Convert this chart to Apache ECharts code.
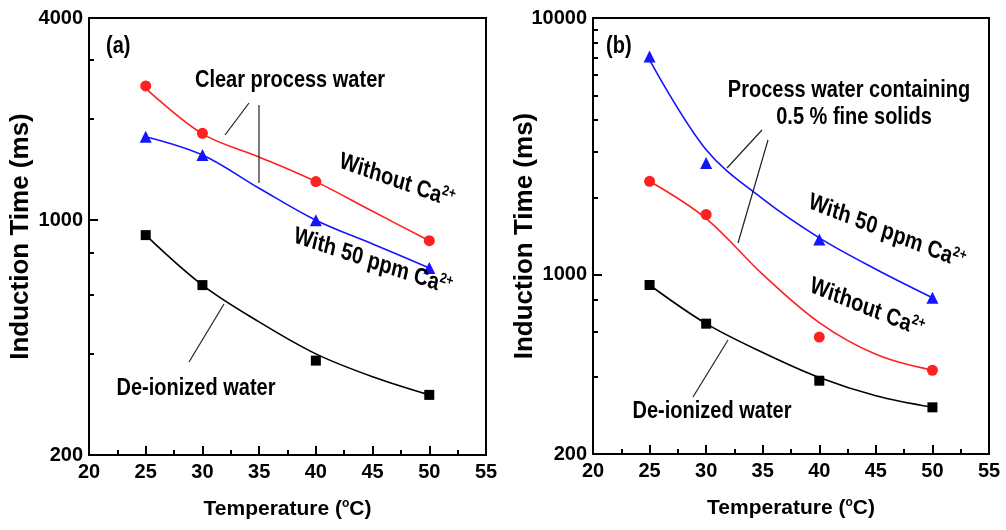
<!DOCTYPE html>
<html>
<head>
<meta charset="utf-8">
<script src="https://cdn.jsdelivr.net/npm/echarts@6/dist/echarts.min.js"></script>
<style>
html,body{margin:0;padding:0;background:#fff;}
#chart{width:1006px;height:530px;}
</style>
</head>
<body>
<div id="chart"></div>
<script>
// ---------- data ----------
const xTicks = [20, 25, 30, 35, 40, 45, 50, 55];
const temps = [25, 30, 40, 50];
const fitTemps = [25, 30, 35, 40, 45, 50];

// Panel (a): clear process water
const aWithout = [2510, 1815, 1303, 869];
const aWith50 = [1773, 1564, 1000, 721];
const aDI = [903, 641, 382, 302];
const aWithoutFit = [2470, 1807, 1543, 1303, 1063, 869];
const aWith50Fit = [1773, 1564, 1245, 1000, 850, 721];
const aDIFit = [903, 641, 498, 400, 342, 302];

// Panel (b): process water containing 0.5 % fine solids
const bWith50 = [7072, 2724, 1370, 813];
const bWithout = [2310, 1715, 571, 424];
const bDI = [911, 644, 386, 304];
const bWith50Fit = [6864, 3066, 1972, 1391, 1050, 813];
const bWithoutFit = [2310, 1654, 1002, 650, 489, 424];
const bDIFit = [911, 644, 497, 397, 337, 304];

const aYLabels = [200, 1000, 4000];
const aYMinor = [400, 600, 800, 2000, 3000];
const bYLabels = [200, 1000, 10000];
const bYMinor = [400, 600, 800, 2000, 3000, 4000, 5000, 6000, 7000, 8000, 9000];

// ---------- styling ----------
const FONT = "'Liberation Sans', Arial, Helvetica, sans-serif";
const RED = '#ff2020', BLUE = '#1414ff', BLACK = '#000';
const STRETCH = 1.2;

const pair = (xs, ys) => xs.map((x, i) => [x, ys[i]]);
const plain = v => String(Math.round(v));

function xAxisCfg(gi) {
  return {
    type: 'value', gridIndex: gi, min: 20, max: 55, interval: 5,
    axisLine: { show: true, lineStyle: { color: BLACK, width: 2 } },
    axisTick: { show: true, inside: true, length: 9, lineStyle: { color: BLACK, width: 2 } },
    minorTick: { show: true, splitNumber: 2, length: 5, lineStyle: { color: BLACK, width: 2 } },
    splitLine: { show: false },
    axisLabel: { margin: 7, color: BLACK, fontFamily: FONT, fontWeight: 'bold', fontSize: 20, formatter: plain },
    name: 'Temperature ({s|o}C)', nameLocation: 'middle', nameGap: 43, nameMoveOverlap: false,
    nameTextStyle: { color: BLACK, fontFamily: FONT, fontWeight: 'bold', fontSize: 21,
      rich: { s: { fontSize: 12, fontFamily: FONT, fontWeight: 'bold', color: BLACK, verticalAlign: 'top', padding: [0, 0, 11, 0] } } }
  };
}
function yAxisMain(gi, min, max, labels, gap) {
  return {
    type: 'log', logBase: 10, gridIndex: gi, min: min, max: max, position: 'left',
    axisLine: { show: true, lineStyle: { color: BLACK, width: 2 } },
    axisTick: { show: true, inside: true, length: 9, customValues: labels, lineStyle: { color: BLACK, width: 2 } },
    minorTick: { show: false },
    splitLine: { show: false },
    axisLabel: { customValues: labels, margin: 6, color: BLACK, fontFamily: FONT, fontWeight: 'bold', fontSize: 20, formatter: plain },
    name: 'Induction Time (ms)', nameLocation: 'middle', nameGap: gap, nameRotate: 90, nameMoveOverlap: false,
    nameTextStyle: { color: BLACK, fontFamily: FONT, fontWeight: 'bold', fontSize: 26 }
  };
}
function yAxisMinor(gi, min, max, minors) {
  return {
    type: 'log', logBase: 10, gridIndex: gi, min: min, max: max, position: 'left',
    axisLine: { show: false },
    axisTick: { show: true, inside: true, length: 5, customValues: minors, lineStyle: { color: BLACK, width: 2 } },
    axisLabel: { show: false, customValues: minors },
    splitLine: { show: false }
  };
}
function scatter(xi, yi, data, symbol, size, color) {
  return { type: 'scatter', xAxisIndex: xi, yAxisIndex: yi, data: data, symbol: symbol,
    symbolSize: size, itemStyle: { color: color, opacity: 1 }, z: 5, silent: true };
}
function fit(xi, yi, data, color) {
  return { type: 'line', xAxisIndex: xi, yAxisIndex: yi, data: data, smooth: 0.35,
    showSymbol: false, symbol: 'none', lineStyle: { color: color, width: 1.6 }, z: 3, silent: true };
}

// annotation text: rotated, then vertically stretched (as in the reference image)
function txt(x, y, text, opts) {
  opts = opts || {};
  const size = opts.size || 20;
  const ang = Math.atan(Math.tan((opts.rot || 0) * Math.PI / 180) / STRETCH);
  return {
    type: 'group', x: x, y: y, scaleY: STRETCH, z: 20, silent: true,
    children: [{
      type: 'text', x: 0, y: 0, rotation: ang, z: 20, silent: true,
      style: {
        text: text, fill: BLACK, fontFamily: FONT, fontWeight: 'bold', fontSize: size,
        align: opts.align || 'center', verticalAlign: 'middle',
        rich: { s: { fontSize: 12, fontFamily: FONT, fontWeight: 'bold', fill: BLACK, verticalAlign: 'top', padding: [0, 0, 11, 0] },
                n: { fontSize: size, fontFamily: FONT, fontWeight: 'bold', fill: BLACK } }
      }
    }]
  };
}
function seg(x1, y1, x2, y2) {
  return { type: 'line', z: 20, silent: true, shape: { x1: x1, y1: y1, x2: x2, y2: y2 },
    style: { stroke: '#222', lineWidth: 1.2 } };
}

const chart = echarts.init(document.getElementById('chart'), null, { renderer: 'canvas' });
chart.setOption({
  backgroundColor: '#fff',
  animation: false,
  grid: [
    { left: 89, top: 18, width: 397, height: 437, show: true, borderColor: BLACK, borderWidth: 2, backgroundColor: 'transparent' },
    { left: 593, top: 18, width: 396, height: 436, show: true, borderColor: BLACK, borderWidth: 2, backgroundColor: 'transparent' }
  ],
  xAxis: [xAxisCfg(0), xAxisCfg(1)],
  yAxis: [
    yAxisMain(0, 200, 4000, aYLabels, 55),
    yAxisMinor(0, 200, 4000, aYMinor),
    yAxisMain(1, 200, 10000, bYLabels, 55),
    yAxisMinor(1, 200, 10000, bYMinor)
  ],
  series: [
    fit(0, 0, pair(fitTemps, aWithoutFit), RED),
    fit(0, 0, pair(fitTemps, aWith50Fit), BLUE),
    fit(0, 0, pair(fitTemps, aDIFit), BLACK),
    scatter(0, 0, pair(temps, aWithout), 'circle', 11, RED),
    scatter(0, 0, pair(temps, aWith50), 'triangle', 12, BLUE),
    scatter(0, 0, pair(temps, aDI), 'rect', 10, BLACK),
    fit(1, 2, pair(fitTemps, bWith50Fit), BLUE),
    fit(1, 2, pair(fitTemps, bWithoutFit), RED),
    fit(1, 2, pair(fitTemps, bDIFit), BLACK),
    scatter(1, 2, pair(temps, bWith50), 'triangle', 12, BLUE),
    scatter(1, 2, pair(temps, bWithout), 'circle', 11, RED),
    scatter(1, 2, pair(temps, bDI), 'rect', 10, BLACK)
  ],
  graphic: [
    // panel (a)
    txt(106, 46, '(a)', { align: 'left' }),
    txt(290, 80, 'Clear process water'),
    seg(249, 103, 225, 135),
    seg(259, 105, 259, 183),
    txt(397, 181, '{n|Without Ca}{s|2+}', { rot: -19.5 }),
    txt(373, 262, '{n|With 50 ppm Ca}{s|2+}', { rot: -18.5 }),
    txt(196, 388, 'De-ionized water'),
    seg(189, 362, 224, 304),
    // panel (b)
    txt(606, 46, '(b)', { align: 'left' }),
    txt(849, 90, 'Process water containing'),
    txt(854, 117, '0.5 % fine solids'),
    seg(762, 130, 727, 168),
    seg(768, 140, 738, 243),
    txt(887, 232, '{n|With 50 ppm Ca}{s|2+}', { rot: -21.5 }),
    txt(867, 308, '{n|Without Ca}{s|2+}', { rot: -22 }),
    txt(712, 411, 'De-ionized water'),
    seg(728, 340, 693, 397)
  ]
});
</script>
</body>
</html>
